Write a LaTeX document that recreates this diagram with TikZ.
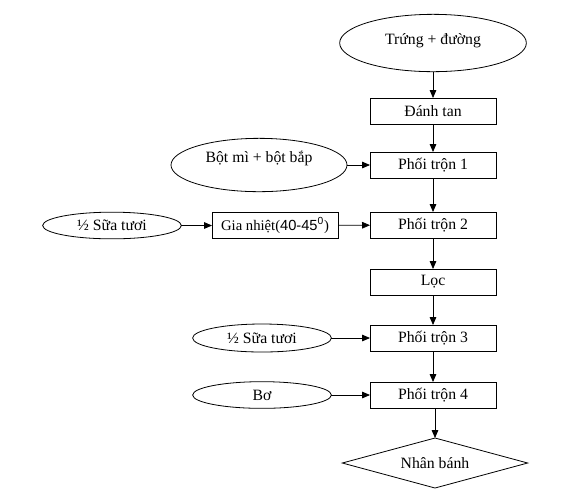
\documentclass[tikz,border=0pt]{standalone}
\usepackage{fontspec}
\setmainfont{Liberation Serif}
\newfontfamily\digitfont{Liberation Sans}
\usetikzlibrary{arrows.meta,positioning,shapes.geometric}

\begin{document}
\begin{tikzpicture}[x=0.75pt,y=-0.75pt,
line width=0.6pt,
>={Triangle[length=6pt,width=5pt]},
every node/.style={font=\fontsize{11.8}{14}\selectfont,outer sep=0pt,inner sep=2pt},
box/.style={draw,rectangle,minimum width=94.5pt,minimum height=19.5pt},
oval/.style={draw,ellipse,minimum width=104pt,minimum height=20pt},
decision/.style={draw,diamond,minimum width=139pt,minimum height=37.5pt,aspect=3.7}]
\useasboundingbox (0,0) rectangle (573,501);
% main line
\node[oval,minimum width=140pt,minimum height=43pt,label={[yshift=2pt]center:Trứng + đường}] (E1) at (433,43) {};
\node[box] (B1) at (433,111) {Đánh tan};
\node[box] (B2) at (433,165) {Phối trộn 1};
\node[box] (B3) at (433,225) {Phối trộn 2};
\node[box] (B4) at (433,282) {Lọc};
\node[box] (B5) at (433,338) {Phối trộn 3};
\node[box] (B6) at (433,395) {Phối trộn 4};
\node[decision] (N1) at (435,463) {Nhân bánh};
% side inputs
\node[oval,minimum width=132pt,minimum height=40pt,label={[yshift=5pt]center:Bột mì + bột bắp}] (E2) at (259,165) {};
\node[box,minimum height=20pt,font=\fontsize{11}{13}\selectfont] (G1) at (275,225.5) {Gia nhiệt({\digitfont 40-45\textsuperscript{0}})};
\node[oval] (E3) at (112,225.5) {½ Sữa tươi};
\node[oval,minimum height=21pt] (E4) at (262,338) {½ Sữa tươi};
\node[oval] (E5) at (262,395) {Bơ};
\draw[->] (E1)--(B1);
\draw[->] (B1)--(B2);
\draw[->] (B2)--(B3);
\draw[->] (B3)--(B4);
\draw[->] (B4)--(B5);
\draw[->] (B5)--(B6);
\draw[->] (B6.south -| N1)--(N1);
\draw[->] (E2)--(B2);
\draw[->] (E3)--(G1);
\draw[->] (G1)--(B3);
\draw[->] (E4)--(B5);
\draw[->] (E5)--(B6);
\end{tikzpicture}
\end{document}
